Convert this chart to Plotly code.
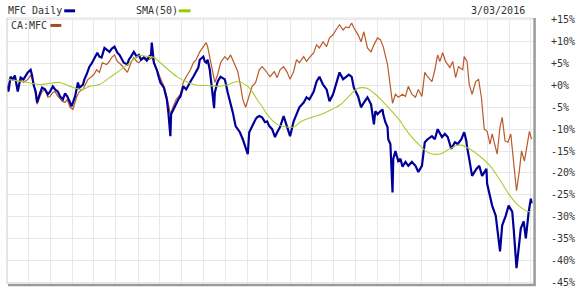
import pandas as pd
import plotly.graph_objects as go

start = pd.Timestamp("2014-03-03")

# MFC Daily (% change), sampled as (calendar day offset from start, percent)
mfc_day = [0, 1, 4, 7, 10, 14, 18, 22, 28, 32, 34, 36, 39, 41, 45, 48, 52, 56, 59, 63, 66, 70, 73, 77, 80, 83, 87, 89, 91, 94,
           98, 100, 105, 107, 110, 114, 117, 121, 125, 128, 131, 135, 138, 142, 145, 149, 153, 156, 158, 162, 167, 169, 172, 176, 180, 183, 186, 190, 194, 197,
           200, 201, 204, 208, 211, 213, 218, 222, 224, 227, 228, 231, 235, 238, 241, 245, 249, 252, 255, 259, 263, 266, 268, 273, 275, 277, 279, 282, 284, 286,
           288, 289, 293, 297, 300, 303, 307, 311, 314, 318, 321, 324, 328, 332, 335, 337, 341, 346, 348, 351, 355, 359, 362, 365, 369, 373, 376, 380, 385, 390,
           394, 399, 403, 407, 413, 417, 421, 427, 431, 435, 440, 445, 449, 454, 458, 463, 468, 472, 476, 480, 483, 489, 493, 497, 502, 507, 509, 511, 513, 516,
           520, 523, 524, 527, 530, 531, 534, 535, 537, 538, 541, 545, 548, 551, 555, 559, 564, 569, 573, 578, 582, 586, 592, 596, 600, 606, 610, 614, 619, 624,
           628, 633, 637, 640, 641, 644, 648, 654, 658, 662, 668, 669, 672, 676, 681, 686, 687, 690, 695, 699, 704, 706, 709, 710, 713, 716, 720, 723, 727, 730, 731]
mfc_pct = [0.0, -1.4, 2.0, 1.4, 2.3, -1.4, 1.8, 1.4, 3.0, 3.6, 2.3, 0.2, -1.4, -3.9, -1.8, -0.5, -0.9, -2.0, -1.4, -0.2, -0.9, -1.4, -2.5, -3.2, -1.8, -2.5, -3.9, -4.8, -3.9, -2.5,
           0.7, -0.5, 0.2, 1.4, 2.5, 4.3, 5.0, 6.4, 7.5, 6.6, 6.4, 8.6, 8.2, 7.7, 8.4, 8.9, 7.5, 7.0, 6.4, 5.2, 4.8, 5.9, 6.6, 7.7, 6.6, 7.0, 5.9, 6.4, 5.7, 6.6,
           7.0, 9.8, 5.2, 3.6, 1.8, 0.7, -0.5, -3.2, -5.9, -11.6, -6.6, -5.5, -3.9, -3.2, -2.5, -0.2, -0.9, 0.2, 0.9, 2.0, 3.2, 4.1, 5.9, 6.6, 5.5, 5.2, 5.9, 3.6, 0.7, -3.2,
           -5.2, -1.6, 0.9, 2.0, 1.6, 1.4, -1.6, -3.9, -6.1, -9.3, -10.0, -10.7, -12.3, -14.5, -15.7, -10.7, -9.3, -7.7, -7.3, -7.0, -7.3, -8.4, -8.2, -9.3, -10.0, -11.8, -10.7, -9.5, -7.0, -9.5,
           -11.6, -8.2, -6.6, -5.0, -3.9, -2.7, -3.2, -1.4, 0.9, 2.0, 0.2, -0.9, -3.6, -2.0, 0.2, 3.0, 1.4, 2.0, 2.5, 2.0, -0.5, -2.5, -5.0, -3.9, -2.7, -4.3, -7.3, -8.9, -5.9, -6.6,
           -5.9, -5.5, -6.6, -8.4, -9.5, -12.3, -13.4, -18.0, -24.5, -16.8, -15.0, -17.3, -16.8, -18.6, -17.5, -18.4, -17.5, -18.4, -19.8, -18.4, -13.0, -12.3, -11.6, -12.3, -10.0, -11.8, -11.1, -11.8, -14.5, -13.0,
           -13.4, -12.3, -10.7, -12.7, -14.1, -16.8, -20.7, -19.1, -18.4, -20.7, -19.1, -22.5, -24.8, -27.5, -29.8, -36.1, -38.0, -32.0, -29.8, -27.5, -28.9, -32.7, -38.4, -41.8, -37.3, -32.7, -31.1, -35.0, -28.9, -25.9, -27.0]

# CA:MFC (% change)
ca_day = [0, 4, 10, 14, 18, 22, 28, 32, 36, 39, 41, 45, 48, 52, 56, 59, 63, 66, 70, 76, 80, 83, 87, 91, 94, 96, 100, 105, 107, 112,
          117, 121, 124, 128, 132, 138, 142, 145, 149, 153, 158, 162, 167, 172, 176, 180, 183, 190, 197, 201, 208, 213, 218, 222, 227, 231, 235, 241, 245, 249,
          255, 259, 263, 268, 273, 277, 279, 282, 286, 289, 293, 297, 303, 307, 311, 316, 321, 325, 328, 332, 337, 341, 346, 351, 355, 359, 366, 372, 376, 380,
          385, 390, 394, 399, 403, 407, 413, 417, 421, 427, 431, 435, 440, 445, 449, 454, 458, 463, 468, 472, 476, 480, 483, 489, 493, 497, 502, 507, 511, 516,
          520, 524, 530, 534, 537, 541, 545, 551, 555, 559, 564, 569, 573, 578, 582, 586, 592, 596, 600, 603, 607, 611, 617, 621, 625, 629, 635, 637, 641, 644,
          648, 653, 657, 661, 665, 669, 673, 676, 680, 683, 687, 690, 694, 698, 702, 706, 710, 714, 717, 721, 724, 728, 731]
ca_pct = [0.0, 1.4, 1.6, -0.5, 1.4, 0.7, 1.4, 2.3, 0.9, -2.0, -4.3, -2.5, -1.4, -0.9, -2.7, -2.5, -1.6, -1.4, -2.5, -3.6, -3.9, -3.2, -5.0, -5.5, -4.1, -2.7, -1.4, -0.9, -0.2, 1.4,
          2.0, 2.7, 3.6, 3.0, 5.2, 4.8, 5.5, 6.4, 7.0, 5.5, 4.8, 4.1, 3.0, 5.2, 6.4, 5.5, 5.2, 6.6, 5.9, 6.4, 3.6, 2.0, -0.2, -2.5, -6.6, -4.8, -3.2, -2.0, 0.7, 2.0,
          3.6, 5.2, 5.9, 7.7, 8.9, 9.8, 8.9, 6.6, 3.6, 0.7, 2.5, 5.2, 6.6, 5.9, 7.0, 5.2, 3.2, -0.2, -3.2, -5.0, -2.5, -0.2, 0.7, 3.6, 4.3, 3.6, 2.0, 3.2, 1.8, 3.6,
          4.3, 3.0, 1.4, 3.2, 5.9, 5.2, 6.6, 5.5, 6.4, 7.5, 9.3, 8.6, 10.0, 8.9, 10.9, 11.6, 12.7, 13.9, 12.7, 13.4, 13.2, 14.3, 13.2, 11.6, 10.0, 12.3, 8.6, 7.7, 9.3, 10.9,
          10.5, 8.9, 4.8, -0.5, -4.1, -2.0, -2.7, -2.0, -2.5, -0.2, -2.0, -2.7, -0.9, -2.5, 3.0, 2.0, 0.9, 3.6, 7.0, 5.5, 7.5, 5.5, 4.1, 5.5, 1.8, 4.3, 3.6, 6.6, 5.5, 0.2,
          -2.0, 0.9, 1.4, -2.7, -10.0, -10.5, -13.4, -11.1, -13.4, -15.7, -9.5, -7.3, -12.7, -13.0, -11.1, -18.0, -24.1, -19.5, -15.0, -17.3, -14.1, -10.5, -12.3]

# SMA(50) of MFC (% change)
sma_day = [0, 28, 45, 59, 73, 87, 105, 114, 128, 142, 156, 169, 183, 197, 204, 211, 224, 238, 252, 266, 279, 293, 307, 321, 335, 341, 348, 355, 362, 376,
           390, 399, 410, 424, 438, 452, 465, 479, 486, 493, 502, 513, 527, 534, 548, 555, 576, 589, 603, 617, 630, 644, 658, 672, 686, 699, 713, 727, 731]
sma_pct = [1.4, 0.7, 0.2, 0.5, 0.7, -0.2, -0.9, -0.2, 0.2, 1.8, 3.4, 5.0, 6.8, 6.6, 6.4, 5.5, 3.6, 1.8, 0.7, 0.0, 0.0, -0.2, 0.2, 0.9, -0.2, -1.4, -3.2, -4.8, -6.6, -8.9,
           -9.5, -9.5, -8.2, -7.3, -6.6, -5.5, -4.3, -2.0, -0.9, -0.5, -0.7, -2.0, -4.3, -5.5, -8.2, -10.0, -13.9, -15.5, -15.7, -14.5, -13.6, -14.5, -16.1, -18.2, -21.4, -24.8, -27.5, -28.9, -28.6]

y_ticks = list(range(-45, 20, 5))
y_labels = [f"+{v}%" if v >= 0 else f"{v}%" for v in y_ticks]

def to_dates(days):
    return start + pd.to_timedelta(days, unit="D")

BLUE = "#000099"
BROWN = "#b85a2a"
GREEN = "#aacc33"
FONT = "DejaVu Sans Mono"

fig = go.Figure()
fig.add_trace(go.Scatter(x=to_dates(ca_day), y=ca_pct, mode="lines",
                         line=dict(color=BROWN, width=1.2), hoverinfo="skip"))
fig.add_trace(go.Scatter(x=to_dates(mfc_day), y=mfc_pct, mode="lines",
                         line=dict(color=BLUE, width=2.2), hoverinfo="skip"))
fig.add_trace(go.Scatter(x=to_dates(sma_day), y=sma_pct, mode="lines",
                         line=dict(color=GREEN, width=1.1, shape="spline"), hoverinfo="skip"))

fig.update_layout(
    width=582, height=295,
    margin=dict(l=7, r=42, t=18, b=9),
    paper_bgcolor="white", plot_bgcolor="white",
    showlegend=False,
    font=dict(family=FONT, size=10, color="#333333"),
    xaxis=dict(
        range=[start - pd.Timedelta(days=1), start + pd.Timedelta(days=733)],
        type="date", tick0="2014-04-01", dtick="M1",
        showgrid=True, gridcolor="#e8e8e8", gridwidth=1,
        showticklabels=False, zeroline=False, showline=False, ticks="",
    ),
    yaxis=dict(
        range=[-45.45, 15.45], side="right",
        tickvals=y_ticks, ticktext=y_labels,
        showgrid=True, gridcolor="#e8e8e8", gridwidth=1,
        zeroline=False, showline=False,
        ticks="outside", ticklen=15, tickcolor="rgba(0,0,0,0)",
        tickfont=dict(family=FONT, size=10, color="#333333"),
    ),
)

# frame
fig.add_shape(type="line", xref="paper", yref="paper", x0=0, x1=0, y0=0, y1=1,
              line=dict(color="#cccccc", width=1))
fig.add_shape(type="line", xref="paper", yref="paper", x0=0, x1=1, y0=1, y1=1,
              line=dict(color="#dddddd", width=1))
fig.add_shape(type="line", xref="paper", yref="paper", x0=1.003, x1=1.003, y0=-0.006, y1=1,
              line=dict(color="#9a9a9a", width=2.5))
fig.add_shape(type="line", xref="paper", yref="paper", x0=0.002, x1=1.005, y0=-0.004, y1=-0.004,
              line=dict(color="#9a9a9a", width=2.5))

# legend-like labels
def label(text, x, y, anchor="left"):
    fig.add_annotation(text=text, xref="paper", yref="paper", x=x, y=y,
                       xanchor=anchor, yanchor="middle", showarrow=False,
                       font=dict(family=FONT, size=10, color="#333333"))

def dash(x0, x1, y, color):
    fig.add_shape(type="line", xref="paper", yref="paper", x0=x0, x1=x1, y0=y, y1=y,
                  line=dict(color=color, width=3))

label("MFC Daily", -0.002, 1.027)
dash(0.1088, 0.1295, 1.027, BLUE)
label("SMA(50)", 0.2420, 1.027)
dash(0.3265, 0.3490, 1.027, "#99cc00")
label("CA:MFC", 0.004, 0.972)
dash(0.0826, 0.1032, 0.972, "#a0501e")
label("3/03/2016", 0.988, 1.027, anchor="right")

fig.write_html("out.html")
